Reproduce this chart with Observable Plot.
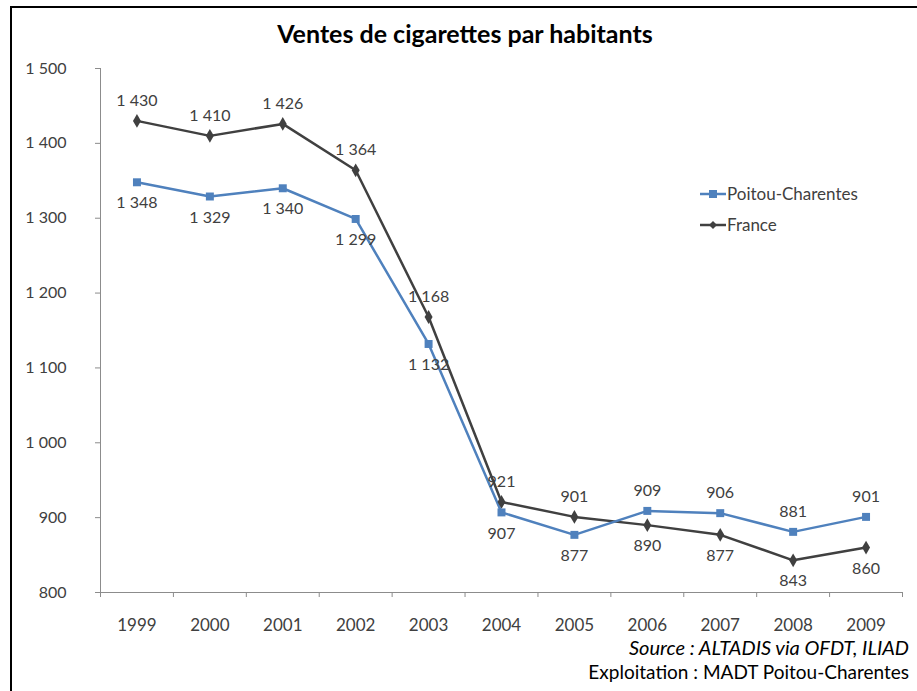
<!DOCTYPE html>
<html>
<head>
<meta charset="utf-8">
<script src="https://cdn.jsdelivr.net/npm/d3@7"></script>
<script src="https://cdn.jsdelivr.net/npm/@observablehq/plot@0.6"></script>
<style>
  html, body { margin: 0; padding: 0; background: #fff; overflow: hidden; width: 917px; height: 691px; }
  body { position: relative; font-family: Lato, "Open Sans", sans-serif; color: #404040; }
  #frame { position: absolute; left: 10px; top: 6px; width: 2000px; height: 2000px; border-left: 2px solid #000; border-top: 2px solid #000; }
  #title { position: absolute; left: 0; top: 18px; width: 930px; text-align: center; font-weight: bold; font-size: 25px; line-height: 30px; color: #000; }
  #chart { position: absolute; left: 0; top: 0; }
  #legend { position: absolute; left: 700px; top: 178px; font-size: 17px; color: #404040; }
  #legend .row { display: flex; align-items: center; height: 31px; }
  #legend svg { margin-right: 1px; }
  #src1 { position: absolute; right: 8px; top: 635px; font-style: italic; font-size: 20px; line-height: 24px; color: #000; }
  #src2 { position: absolute; right: 8px; top: 660px; font-size: 19px; line-height: 24px; color: #000; }
</style>
</head>
<body>
<div id="frame"></div>
<div id="chart"></div>
<div id="title">Ventes de cigarettes par habitants</div>
<div id="legend"></div>
<div id="src1">Source : ALTADIS via OFDT, ILIAD</div>
<div id="src2">Exploitation : MADT Poitou-Charentes</div>
<script>
const years = [1999, 2000, 2001, 2002, 2003, 2004, 2005, 2006, 2007, 2008, 2009];
const poitou = [1348, 1329, 1340, 1299, 1132, 907, 877, 909, 906, 881, 901];
const france = [1430, 1410, 1426, 1364, 1168, 921, 901, 890, 877, 843, 860];
const yTicks = [800, 900, 1000, 1100, 1200, 1300, 1400, 1500];
const seriesNames = ["Poitou-Charentes", "France"];

const blue = "#4F81BD";
const dark = "#404040";
const axisColor = "#8c8c8c";

const fmt = d => String(d).replace(/\B(?=(\d{3})+(?!\d))/g, " ");

const rows = [];
years.forEach((yr, i) => {
  rows.push({year: yr, value: poitou[i], series: seriesNames[0], above: poitou[i] > france[i]});
  rows.push({year: yr, value: france[i], series: seriesNames[1], above: france[i] > poitou[i]});
});
const pRows = rows.filter(d => d.series === seriesNames[0]);
const fRows = rows.filter(d => d.series === seriesNames[1]);
const boundaries = years.map(y => y - 0.5).concat([years[years.length - 1] + 0.5]);

const chart = Plot.plot({
  width: 917,
  height: 691,
  marginLeft: 100,
  marginRight: 15,
  marginTop: 68,
  marginBottom: 99,
  x: {domain: [years[0] - 0.5, years[years.length - 1] + 0.5]},
  y: {domain: [800, 1500]},
  style: {fontFamily: "Lato, 'Open Sans', sans-serif", fontSize: "16px", color: dark, background: "transparent"},
  marks: [
    Plot.axisY({ticks: yTicks, tickSize: 5, tickPadding: 29, tickFormat: fmt, stroke: axisColor, fill: dark, label: null, fontSize: 16}),
    Plot.ruleX([years[0] - 0.5], {stroke: axisColor}),
    Plot.ruleY([800], {stroke: axisColor}),
    Plot.axisX({ticks: boundaries, tickSize: 5, tickFormat: () => "", stroke: axisColor, label: null}),
    Plot.axisX({ticks: years, tickSize: 0, tickPadding: 26, tickFormat: d => String(d), fill: dark, label: null, fontSize: 17}),
    Plot.line(fRows, {x: "year", y: "value", stroke: dark, strokeWidth: 2.5}),
    Plot.line(pRows, {x: "year", y: "value", stroke: blue, strokeWidth: 2.5}),
    Plot.dot(fRows, {x: "year", y: "value", symbol: "diamond", r: 4.2, fill: dark, stroke: "none"}),
    Plot.dot(pRows, {x: "year", y: "value", symbol: "square", r: 4.5, fill: blue, stroke: "none"}),
    Plot.text(rows.filter(d => d.above), {x: "year", y: "value", text: d => fmt(d.value), dy: -20, fill: dark, fontSize: 16}),
    Plot.text(rows.filter(d => !d.above), {x: "year", y: "value", text: d => fmt(d.value), dy: 21, fill: dark, fontSize: 16})
  ]
});
document.getElementById("chart").appendChild(chart);

// legend
const legend = document.getElementById("legend");
const symbolSvg = (name) => {
  const color = name === seriesNames[0] ? blue : dark;
  const sym = name === seriesNames[0]
    ? `<rect x="9" y="2" width="8" height="8" fill="${color}"/>`
    : `<path d="M13,2 L17,6 L13,10 L9,6 Z" fill="${color}"/>`;
  return `<svg width="26" height="12"><line x1="0" y1="6" x2="26" y2="6" stroke="${color}" stroke-width="2.5"/>${sym}</svg>`;
};
seriesNames.forEach(name => {
  const row = document.createElement("div");
  row.className = "row";
  row.innerHTML = symbolSvg(name) + `<span>${name}</span>`;
  legend.appendChild(row);
});
</script>
</body>
</html>
